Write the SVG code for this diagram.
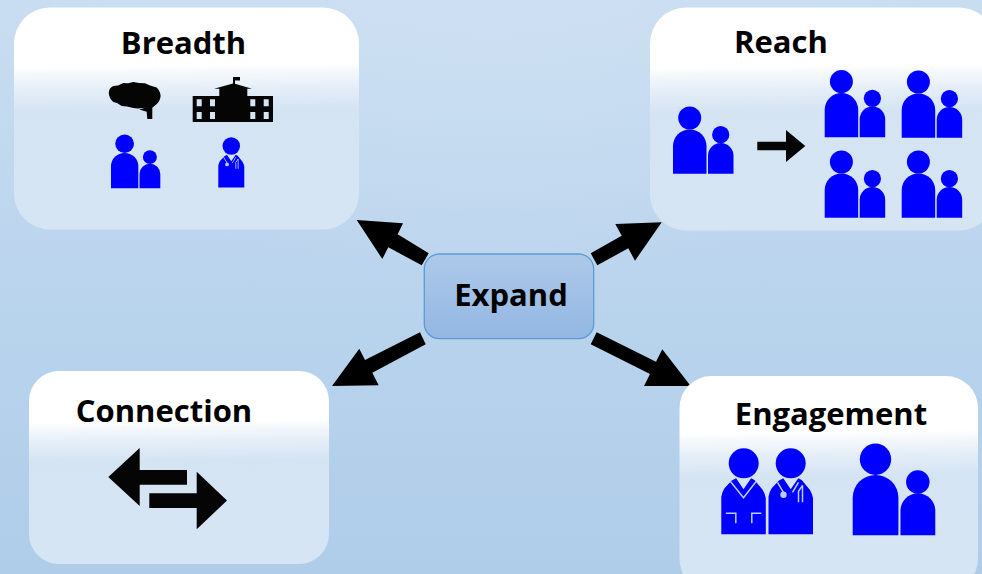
<svg xmlns="http://www.w3.org/2000/svg" xmlns:xlink="http://www.w3.org/1999/xlink" width="982" height="574" viewBox="0 0 982 574">
<style>
.panel{fill:url(#panelGrad)}
.label{font-family:"Open Sans","Liberation Sans",sans-serif;font-weight:700;font-size:31px;fill:#000}
.ink{fill:#050505}
.blue{fill:#0000ff}
.detail{fill:none;stroke:#b9cef0;stroke-width:1.5}
.arrow{fill:#000}
</style>
<defs>
<linearGradient id="bgGrad" x1="0" y1="0" x2="0" y2="1">
<stop offset="0" stop-color="#c9ddf1"/><stop offset="0.5" stop-color="#bad4ed"/><stop offset="1" stop-color="#afcde9"/>
</linearGradient>
<radialGradient id="bgGlow" cx="0.5" cy="0" r="0.5">
<stop offset="0" stop-color="#d3e4f4" stop-opacity="0.45"/><stop offset="1" stop-color="#d3e4f4" stop-opacity="0"/>
</radialGradient>
<linearGradient id="panelGrad" x1="0.49" y1="0" x2="0.51" y2="1">
<stop offset="0" stop-color="#fff"/><stop offset="0.26" stop-color="#fff"/><stop offset="0.29" stop-color="#f6f9fc"/><stop offset="0.36" stop-color="#e6eff8"/><stop offset="0.46" stop-color="#d5e4f3"/><stop offset="1" stop-color="#d6e5f4"/>
</linearGradient>
<linearGradient id="expandGrad" x1="0" y1="0" x2="0" y2="1">
<stop offset="0" stop-color="#adc9e9"/><stop offset="1" stop-color="#93b7e2"/>
</linearGradient>
<g id="family">
<circle cx="16.700" cy="-55.700" r="11.500" class="blue"/>
<path d="M0 0V-27.500A16.750 16.750 0 0 1 33.500 -27.500V0Z" class="blue"/>
<circle cx="47.700" cy="-39" r="8.600" class="blue"/>
<path d="M35 0V-18A12.750 12.750 0 0 1 60.500 -18V0Z" class="blue"/>
</g>
<path id="coat" d="M0 0V-37.600Q.6 -42 3.200 -46L10.500 -53.700L14.800 -56L22.200 -45L29.800 -56L33.200 -54.300L41.500 -44.300Q44 -40 44.500 -36V0Z" class="blue"/>
<g id="doctor">
<circle cx="22.200" cy="-71" r="15" class="blue"/>
<use xlink:href="#coat" href="#coat"/>
<path d="M9 -52L15.500 -41M30 -52L24 -42M34 -49L30 -43V-32M34 -49V-32" class="detail"/>
<circle cx="15" cy="-39.500" r="3.200" fill="#b9cef0"/>
</g>
<g id="nurse">
<circle cx="22.400" cy="-71" r="15" class="blue"/>
<use xlink:href="#coat" href="#coat"/>
<path d="M9 -53L22.200 -36.500L35 -53M4.500 -21H14.500V-11M40 -21H30.500V-11" class="detail"/>
</g>
</defs>
<rect width="982" height="574" fill="url(#bgGrad)"/>
<rect width="982" height="574" fill="url(#bgGlow)"/>
<g id="connectors">
<polygon class="arrow" points="356.700,220 403,223.300 397.700,234.300 428.700,253.300 421.700,265.300 388.300,247.300 382.300,259"/>
<polygon class="arrow" points="661.700,222.300 615.300,224 621.700,235.700 590.700,253.300 597.300,265.300 628.300,248.300 635,260.700"/>
<polygon class="arrow" points="332,386 378.700,385.300 372.300,372.700 425.700,344.300 420,332.300 365,360 359.300,348.700"/>
<polygon class="arrow" points="690.700,386 644,386 650,374 590.700,344.300 596.700,332.300 656,361.700 662.300,349.300"/>
</g>
<g id="breadth">
<rect class="panel" x="14" y="7.500" width="345" height="222" rx="36"/>
<text class="label" x="183.500" y="54" text-anchor="middle">Breadth</text>
<path class="ink" d="M108.800 93Q108.800 88 113.300 86L118 85.500L123.300 83L128 83.300L133.300 82L139 83L145 83.300L150 85.500L156.700 87.500Q161 92 160.500 97Q159.500 102.500 155 105.500L152.300 107.700V119H147.300L146.700 111.700L139.300 109.500L145 107.800L138 108.500L133.300 108L127 106.500L121.700 106L117 103L113.300 102Q108.800 98 108.800 93Z"/>
<g id="building">
<path class="ink" d="M192.700 122V96H219.300V88.700H214L233 83.500V77H240V80.500H235V83.800L252 88.700H247.300V96H273V122Z"/>
<path fill="#d7e5f3" d="M196.700 99.300h5v7h-5zM210 99.300h5v7h-5zM250.300 99.300h5v7h-5zM263.700 99.300h5v7h-5zM196.700 112h5v7h-5zM210 112h5v7h-5zM250.300 112h5v7h-5zM263.700 112h5v7h-5z"/>
</g>
<use href="#family" xlink:href="#family" transform="translate(111 188.300) scale(.815 .8)"/>
<use href="#doctor" xlink:href="#doctor" transform="translate(218.300 187.500) scale(.584)"/>
</g>
<g id="reach">
<rect class="panel" x="650" y="7.500" width="345" height="223" rx="36"/>
<text class="label" x="781" y="53" text-anchor="middle">Reach</text>
<use href="#family" xlink:href="#family" transform="translate(673 173.700)"/>
<polygon class="ink" points="757.300,141.700 786,141.700 786,130 805.300,146 786,162 786,150.300 757.300,150.300"/>
<use href="#family" xlink:href="#family" transform="translate(824.700 137.300)"/>
<use href="#family" xlink:href="#family" transform="translate(901.700 137.700)"/>
<use href="#family" xlink:href="#family" transform="translate(824.700 217.700)"/>
<use href="#family" xlink:href="#family" transform="translate(901.700 217.700)"/>
</g>
<g id="expand">
<rect x="424.300" y="254" width="169.400" height="84.700" rx="15" fill="url(#expandGrad)" stroke="#5b9bd5" stroke-width="1.300"/>
<text class="label" x="511" y="306" text-anchor="middle">Expand</text>
</g>
<g id="connection">
<rect class="panel" x="29" y="371" width="300" height="193" rx="30"/>
<text class="label" x="164" y="422" text-anchor="middle">Connection</text>
<polygon class="ink" points="108.300,477 139.700,448 139.700,470 187,470 187,484.700 139.700,484.700 139.700,506"/>
<polygon class="ink" points="227,500.500 196.700,471.700 196.700,493.300 149.300,493.300 149.300,508 196.700,508 196.700,529.300"/>
</g>
<g id="engagement">
<rect class="panel" x="679.500" y="376" width="298.500" height="215" rx="32"/>
<text class="label" x="831" y="425" text-anchor="middle">Engagement</text>
<use href="#nurse" xlink:href="#nurse" transform="translate(721.300 534.300)"/>
<use href="#doctor" xlink:href="#doctor" transform="translate(768.500 534.300)"/>
<use href="#family" xlink:href="#family" transform="translate(852.700 535.300) scale(1.365)"/>
</g>
</svg>
